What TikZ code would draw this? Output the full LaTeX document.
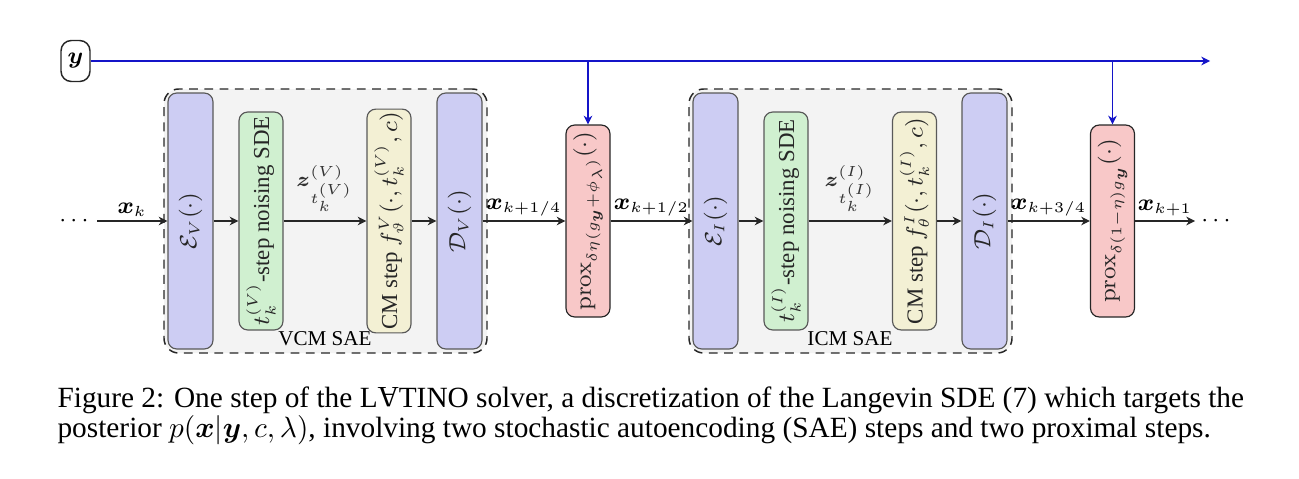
\documentclass[tikz,border=0pt]{standalone}
\usepackage{amsmath}
\usepackage[no-math]{fontspec}
\setmainfont{Liberation Serif}
\usetikzlibrary{arrows.meta}
\definecolor{encfill}{RGB}{205,205,243}
\definecolor{noisefill}{RGB}{208,240,208}
\definecolor{cmfill}{RGB}{243,240,212}
\definecolor{proxfill}{RGB}{248,200,200}
\definecolor{saefill}{RGB}{243,243,243}
\definecolor{yblue}{RGB}{20,20,200}
\begin{document}
\begin{tikzpicture}[x=0.341pt,y=-0.341pt,
  font=\fontsize{7.8}{9}\selectfont,
  box/.style={draw=black!65, rounded corners=3pt, rotate=90, inner sep=1pt, line width=0.4pt, text=black!85},
  encbox/.style={box, fill=encfill, minimum width=256*0.341pt, minimum height=45*0.341pt},
  noisebox/.style={box, fill=noisefill, minimum width=218*0.341pt, minimum height=44*0.341pt},
  cmbox/.style={box, fill=cmfill, minimum width=218*0.341pt, minimum height=44*0.341pt},
  proxbox/.style={box, draw=black!85, fill=proxfill, minimum width=192*0.341pt, minimum height=44*0.341pt},
  saebox/.style={draw=black!85, dash pattern=on 3pt off 2.2pt, line width=0.5pt, fill=saefill, rounded corners=5pt, minimum width=323*0.341pt, minimum height=264*0.341pt},
  ynode/.style={draw=black!85, rounded corners=3.5pt, minimum width=29*0.341pt, minimum height=41*0.341pt, inner sep=0pt, line width=0.5pt},
  arr/.style={-{Stealth[length=3pt,width=3pt]}, line width=0.4pt, draw=black!85},
  barr/.style={-{Stealth[length=3pt,width=3pt]}, line width=0.4pt, draw=yblue},
  xlab/.style={above, inner sep=1.5pt, font=\fontsize{7.6}{9}\selectfont},
  zlab/.style={above, yshift=2pt, inner sep=1pt, font=\fontsize{7.2}{8}\selectfont, text=black!80},
  saelab/.style={font=\fontsize{7.2}{8}\selectfont},
  captext/.style={anchor=base west, inner sep=0pt, font=\fontsize{10}{9.55}\selectfont}
]
\useasboundingbox (0,0) rectangle (1299,479);

% SAE containers
\node[saebox] (vcm) at (325.5,221) {};
\node[saebox] (icm) at (850.5,221) {};
\node[saelab] (vcmlab) at (325,339) {VCM SAE};
\node[saelab] (icmlab) at (850,339) {ICM SAE};

% y input
\node[ynode] (y) at (75.5,61) {$\boldsymbol{y}$};
\coordinate (yend) at (1210,61);

% VCM SAE blocks
\node[encbox] (ev) at (190.5,221) {$\mathcal{E}_V(\cdot)$};
\node[noisebox] (nv) at (261,221) {$t_k^{(V)}$-step noising SDE};
\node[cmbox] (cv) at (389,221) {CM step $f^V_\vartheta(\cdot, t_k^{(V)}, c)$};
\node[encbox] (dv) at (459.5,221) {$\mathcal{D}_V(\cdot)$};

% prox 1
\node[proxbox] (p1) at (588,221) {$\mathrm{prox}_{\delta\eta(g_{\boldsymbol{y}}+\phi_\lambda)}(\cdot)$};

% ICM SAE blocks
\node[encbox] (ei) at (715.5,221) {$\mathcal{E}_I(\cdot)$};
\node[noisebox] (ni) at (786,221) {$t_k^{(I)}$-step noising SDE};
\node[cmbox] (ci) at (914.5,221) {CM step $f^I_\theta(\cdot, t_k^{(I)}, c)$};
\node[encbox] (di) at (984.5,221) {$\mathcal{D}_I(\cdot)$};

% prox 2
\node[proxbox] (p2) at (1112.5,221) {$\mathrm{prox}_{\delta(1-\eta)g_{\boldsymbol{y}}}(\cdot)$};

% ends
\node (ldots) at (76,221) {$\cdots$};
\node (rdots) at (1218,221) {$\cdots$};
\coordinate (start) at (97,221);
\coordinate (finish) at (1195,221);

% main chain
\draw[arr] (start) -- node[xlab] {$\boldsymbol{x}_k$} (ev);
\draw[arr] (ev) -- (nv);
\draw[arr] (nv) -- node[zlab] {$\boldsymbol{z}^{(V)}_{t_k^{(V)}}$} (cv);
\draw[arr] (cv) -- (dv);
\draw[arr] (dv) -- node[xlab] {$\boldsymbol{x}_{k+1/4}$} (p1);
\draw[arr] (p1) -- node[xlab] {$\boldsymbol{x}_{k+1/2}$} (ei);
\draw[arr] (ei) -- (ni);
\draw[arr] (ni) -- node[zlab] {$\boldsymbol{z}^{(I)}_{t_k^{(I)}}$} (ci);
\draw[arr] (ci) -- (di);
\draw[arr] (di) -- node[xlab] {$\boldsymbol{x}_{k+3/4}$} (p2);
\draw[arr] (p2) -- node[xlab] {$\boldsymbol{x}_{k+1}$} (finish);

% y line
\draw[barr] (y) -- (yend);
\draw[barr] (p1.east |- yend) -- (p1.east);
\draw[barr] (p2.east |- yend) -- (p2.east);

% caption
\node[captext] (cap) at (57,407) {\begin{tabular}[t]{@{}l@{}}Figure 2: One step of the L\rotatebox[origin=c]{180}{A}TINO solver, a discretization of the Langevin SDE (7) which targets the\\
posterior $p(\boldsymbol{x}|\boldsymbol{y}, c, \lambda)$, involving two stochastic autoencoding (SAE) steps and two proximal steps.\end{tabular}};
\end{tikzpicture}
\end{document}
